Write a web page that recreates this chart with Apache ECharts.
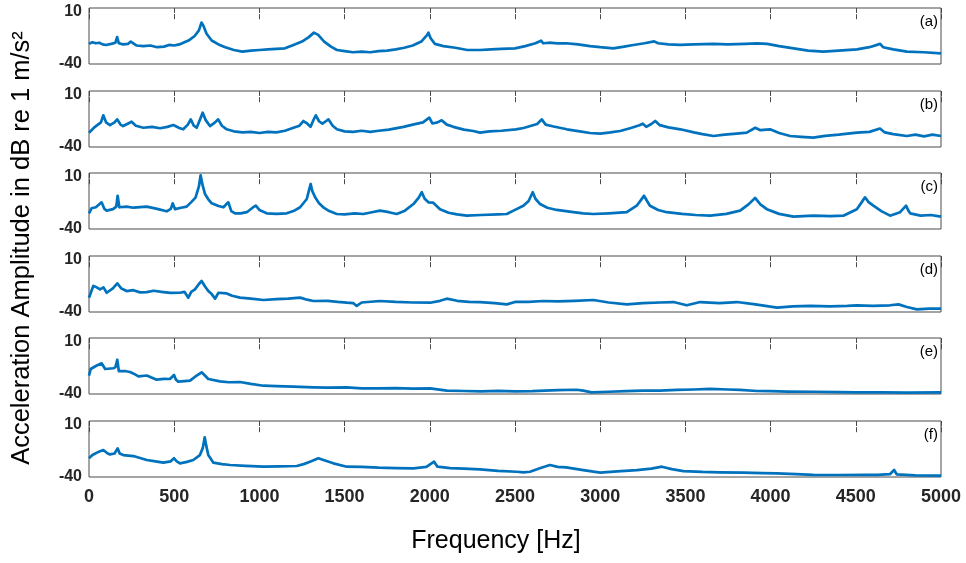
<!DOCTYPE html>
<html>
<head>
<meta charset="utf-8">
<script src="https://cdn.jsdelivr.net/npm/echarts@6/dist/echarts.min.js"></script>
<style>html,body{margin:0;padding:0;background:#fff}#c{width:966px;height:563px}</style>
</head>
<body>
<div id="c"></div>
<script>
// Frequency [Hz], amplitude [dB re 1 m/s^2] pairs
const panelLabels = ['(a)', '(b)', '(c)', '(d)', '(e)', '(f)'];
const xTicks = [0, 500, 1000, 1500, 2000, 2500, 3000, 3500, 4000, 4500, 5000];
const yTicks = [-40, 10];

const seriesA = [[0,-22],[20,-20.5],[40,-21.5],[60,-21],[80,-22.5],[100,-23],[130,-22],[155,-21],[165,-16],[175,-21.5],[200,-22.5],[230,-22],[245,-20],[255,-21],[280,-23.5],[320,-24],[360,-23.5],[400,-25],[440,-24.5],[470,-23],[500,-23.5],[530,-22.5],[560,-20.5],[590,-18.5],[620,-15],[645,-10],[660,-3],[666,-1.3],[672,-6],[690,-13],[720,-19],[760,-22.5],[800,-25],[850,-27.5],[900,-29],[950,-28],[1000,-27.5],[1050,-27],[1100,-26.5],[1150,-26],[1200,-23],[1250,-20],[1290,-16],[1320,-12],[1331,-11],[1345,-14],[1380,-20],[1420,-24.5],[1455,-27.5],[1500,-28.5],[1550,-29.5],[1600,-29],[1650,-29.5],[1700,-28.5],[1750,-28],[1800,-27],[1850,-25.5],[1900,-23.5],[1950,-20],[1985,-14],[1992,-12],[2005,-17],[2030,-22],[2080,-24],[2150,-25.5],[2220,-27.5],[2295,-27.5],[2360,-27],[2420,-26.5],[2500,-26],[2560,-24],[2620,-21.5],[2653,-19.2],[2665,-21.5],[2700,-21],[2750,-21.5],[2800,-21.5],[2870,-22.5],[2940,-24],[3000,-25],[3077,-26],[3140,-24.5],[3195,-23],[3260,-21.5],[3317,-19.8],[3340,-21.5],[3400,-22.5],[3470,-23],[3550,-22.5],[3665,-22],[3750,-22.5],[3850,-22],[3920,-21.5],[3980,-22],[4050,-24],[4135,-26],[4220,-28],[4310,-29],[4400,-28],[4507,-27],[4580,-25],[4643,-22],[4660,-25],[4720,-27],[4800,-29],[4900,-29.5],[5000,-30.5]];

const seriesB = [[0,-27.2],[35,-22],[70,-18],[84,-11.7],[100,-18],[123,-20.4],[150,-18],[165,-15.3],[185,-20],[200,-21.3],[230,-19],[250,-17.4],[275,-21],[319,-22.8],[370,-22],[417,-23.3],[460,-22],[495,-20.4],[530,-23],[553,-24.2],[580,-20],[597,-15.3],[615,-21],[632,-22.8],[655,-14],[667,-9.4],[685,-16],[710,-21.3],[740,-18],[758,-15.3],[780,-21],[808,-24.2],[850,-26],[900,-27],[950,-26.5],[1000,-27.5],[1050,-26.5],[1100,-27],[1150,-25.5],[1200,-22.8],[1235,-21],[1258,-16.8],[1280,-19],[1300,-22],[1320,-15],[1331,-11.7],[1350,-17],[1370,-19.2],[1390,-17],[1405,-15.3],[1430,-21],[1455,-24.2],[1500,-26],[1550,-26.5],[1600,-25.5],[1650,-26.5],[1700,-25.5],[1760,-24.5],[1846,-22],[1900,-20],[1960,-18],[1997,-13.8],[2015,-19],[2045,-18],[2070,-16.2],[2100,-20],[2138,-22],[2200,-24.5],[2255,-25.7],[2295,-27.2],[2350,-26],[2420,-25.5],[2505,-24.2],[2550,-23],[2590,-21.3],[2630,-19.5],[2657,-15.3],[2680,-20],[2720,-21.5],[2804,-24.2],[2880,-26],[2940,-27.5],[3000,-28.1],[3060,-27],[3117,-25.7],[3180,-23],[3230,-20.5],[3250,-19.2],[3270,-22],[3300,-19.5],[3323,-16.8],[3350,-20.5],[3400,-22.5],[3470,-24.2],[3550,-27],[3600,-28.5],[3665,-30.2],[3730,-29],[3800,-28],[3860,-27.2],[3910,-22.8],[3940,-25],[3997,-24.2],[4050,-27.5],[4115,-30.2],[4180,-31],[4250,-31.7],[4320,-30],[4400,-29],[4506,-27.2],[4580,-26.5],[4642,-23.5],[4670,-27],[4720,-28.5],[4799,-30.2],[4850,-29],[4900,-30.5],[4950,-29],[5000,-30.2]];

const seriesC = [[0,-26],[15,-21.5],[40,-20.6],[74,-16.2],[90,-22],[104,-23.6],[141,-22.3],[160,-20],[168,-10.3],[178,-20.6],[220,-20],[260,-21],[300,-20.5],[339,-20],[400,-22],[456,-24.2],[480,-22],[491,-17.1],[505,-22.3],[540,-21],[573,-20],[600,-16],[625,-12],[645,-2],[655,8],[665,0],[681,-8.8],[700,-13.5],[720,-17],[760,-19.5],[789,-20.6],[805,-18],[818,-16.2],[835,-24],[857,-26],[890,-26],[926,-25],[960,-21],[979,-19.2],[1000,-23],[1043,-26],[1100,-26.5],[1160,-26],[1200,-24],[1239,-20.6],[1278,-13.2],[1295,-3],[1301,0.2],[1310,-6],[1327,-11.7],[1350,-17],[1375,-20.6],[1410,-24],[1454,-26.6],[1500,-27],[1560,-26],[1610,-26.6],[1660,-25],[1708,-23.6],[1760,-25],[1806,-26.6],[1850,-24],[1904,-17.7],[1935,-12],[1953,-7.2],[1970,-13],[1992,-16.2],[2020,-16.5],[2060,-22.3],[2110,-25.5],[2160,-27],[2217,-28.1],[2300,-27.5],[2400,-27],[2452,-26.6],[2491,-23.6],[2549,-19.2],[2580,-15],[2604,-7.2],[2620,-13],[2647,-17.7],[2690,-21],[2745,-23],[2820,-24.5],[2900,-26],[2960,-26.6],[3050,-26],[3156,-25],[3214,-19.2],[3240,-14],[3257,-10.3],[3275,-15],[3292,-19.2],[3340,-23],[3390,-25],[3480,-26.5],[3560,-27.5],[3645,-28.1],[3740,-26.5],[3821,-23.6],[3870,-18],[3909,-12.3],[3940,-18],[3978,-22.3],[4050,-26.5],[4134,-29],[4250,-28],[4350,-28.5],[4427,-28.1],[4506,-22.3],[4535,-16],[4554,-11.7],[4575,-16],[4603,-19.2],[4650,-24],[4701,-28.1],[4760,-25],[4795,-19.2],[4810,-24],[4819,-26],[4880,-28],[4940,-27.5],[5000,-29]];

const seriesD = [[0,-27.2],[25,-16.8],[45,-18],[65,-19.8],[85,-18],[104,-22.8],[140,-19],[166,-14.4],[190,-19],[221,-21.3],[260,-20.5],[300,-22.5],[339,-22.2],[380,-21],[436,-22.2],[480,-23],[534,-22.8],[560,-22],[583,-27.2],[600,-22],[622,-19.8],[645,-15],[661,-12.3],[680,-17],[700,-21.3],[720,-24],[740,-28.1],[760,-22.8],[808,-23.4],[840,-25.5],[886,-27.2],[950,-28],[1023,-29.3],[1100,-28.5],[1170,-28],[1239,-27.2],[1280,-29],[1317,-30.2],[1400,-30],[1460,-31],[1513,-31.7],[1550,-32],[1571,-34.6],[1600,-31.5],[1708,-30.2],[1800,-31],[1900,-31.5],[2002,-31.7],[2060,-30],[2100,-28.1],[2160,-30],[2230,-31],[2295,-31.1],[2380,-32],[2452,-33.2],[2500,-31],[2580,-31],[2666,-30.2],[2750,-30.5],[2850,-30],[2960,-29.3],[3050,-31.5],[3156,-33.2],[3250,-32],[3350,-31.5],[3430,-31.1],[3508,-34],[3587,-31.1],[3700,-32],[3802,-31.1],[3900,-33],[3970,-34.5],[4037,-36.1],[4130,-35],[4233,-34.6],[4350,-35],[4450,-34.5],[4506,-34],[4600,-34.5],[4700,-34],[4751,-33.2],[4800,-35.5],[4859,-37.6],[4930,-37],[5000,-37]];

const seriesE = [[0,-23.6],[10,-17.7],[40,-15],[74,-12.6],[95,-17.7],[143,-17],[155,-16],[166,-9.4],[175,-19.5],[210,-19.5],[241,-20.4],[270,-22.5],[290,-24.2],[339,-23.5],[370,-25.5],[397,-27.2],[440,-26.5],[475,-26.6],[499,-23],[510,-27],[524,-29],[560,-28.5],[593,-28.1],[632,-23.5],[661,-20.6],[680,-23.5],[700,-26.6],[769,-28.7],[820,-29.5],[886,-29.3],[950,-31],[1023,-32.6],[1100,-33],[1200,-33.5],[1317,-34],[1400,-34.3],[1513,-34],[1600,-35],[1700,-35],[1800,-34.8],[1900,-35.2],[2002,-35],[2100,-37],[2200,-37.3],[2300,-37.6],[2400,-37.2],[2500,-37.6],[2600,-37.5],[2750,-36.6],[2862,-36.2],[2900,-37],[2950,-38.5],[3050,-38],[3150,-37.5],[3250,-37],[3350,-37],[3450,-36.3],[3550,-36],[3645,-35.5],[3750,-36],[3820,-36.4],[3920,-37.3],[4000,-37.5],[4100,-37.9],[4250,-38],[4400,-38.3],[4500,-38.5],[4650,-38.5],[4800,-38.7],[5000,-38.5]];

const seriesF = [[0,-23.3],[20,-20.4],[50,-18],[84,-15.9],[110,-19],[123,-19.8],[150,-19],[168,-14.4],[180,-19],[201,-20.4],[260,-21.3],[300,-23],[339,-24.8],[390,-26],[436,-27.2],[480,-26],[499,-23.3],[515,-26],[534,-27.8],[575,-26.5],[612,-24.8],[651,-20.4],[668,-14],[679,-4.6],[688,-12],[700,-20.4],[730,-27.2],[780,-28.5],[828,-29.3],[920,-30],[1023,-30.8],[1120,-30.5],[1219,-30.2],[1260,-28.5],[1297,-26.3],[1346,-23.3],[1380,-25],[1434,-27.8],[1513,-30.8],[1600,-31],[1700,-31.7],[1800,-32],[1904,-32.3],[1980,-31],[2025,-26.3],[2045,-30.8],[2120,-32],[2200,-32.5],[2295,-33.2],[2400,-34.5],[2510,-35.3],[2550,-35.8],[2588,-35.3],[2650,-32],[2705,-29.3],[2750,-31],[2800,-31.4],[2901,-33.8],[3000,-36.1],[3100,-35],[3215,-33.8],[3300,-32.5],[3362,-30.8],[3420,-33],[3488,-34.7],[3600,-35.5],[3700,-35.8],[3842,-36.1],[3950,-36.5],[4037,-36.7],[4150,-37.5],[4250,-38.1],[4400,-38.2],[4550,-38.1],[4627,-38.1],[4700,-37.5],[4725,-33.8],[4740,-37.6],[4850,-38.5],[5000,-38.8]];

const allSeries = [seriesA, seriesB, seriesC, seriesD, seriesE, seriesF];

const chart = echarts.init(document.getElementById('c'), null, {renderer: 'canvas'});
const FONT = '"Liberation Sans", Arial, Helvetica, sans-serif';
const AX = '#262626';
const FRAME = '#4a4a4a';
const tops = [8, 91, 173, 256, 338, 421];
const H = 56, LEFT = 89, RIGHT = 25;
const xMin = xTicks[0], xMax = xTicks[xTicks.length - 1], xInt = xTicks[1] - xTicks[0];
const yMin = yTicks[0], yMax = yTicks[1];

const grid = [], xAxis = [], yAxis = [], series = [], graphic = [];
allSeries.forEach((data, i) => {
  const last = i === allSeries.length - 1;
  grid.push({left: LEFT, right: RIGHT, top: tops[i], height: H, show: true, borderColor: FRAME, borderWidth: 1, backgroundColor: 'transparent'});
  xAxis.push({
    type: 'value', gridIndex: i, min: xMin, max: xMax, interval: xInt, position: 'bottom',
    axisLine: {show: false}, splitLine: {show: false},
    axisTick: {show: true, inside: true, length: 5, lineStyle: {color: FRAME, width: 1}},
    axisLabel: {show: last, color: AX, fontFamily: FONT, fontWeight: 'bold', fontSize: 18, margin: 11,
      formatter: v => String(v)}
  });
  xAxis.push({
    type: 'value', gridIndex: i, min: xMin, max: xMax, interval: xInt, position: 'top',
    axisLine: {show: false}, splitLine: {show: false},
    axisTick: {show: true, inside: true, length: 5, lineStyle: {color: FRAME, width: 1}},
    axisLabel: {show: false}
  });
  yAxis.push({
    type: 'value', gridIndex: i, min: yMin, max: yMax, interval: yMax - yMin,
    axisLine: {show: false}, splitLine: {show: false}, axisTick: {show: false},
    axisLabel: {
      color: AX, fontFamily: FONT, fontWeight: 'bold', fontSize: 16, margin: 7,
      formatter: v => v === yMax ? '{t|' + v + '}' : '{b|' + v + '}',
      rich: {
        t: {padding: [8, 0, 0, 0], color: AX, fontFamily: FONT, fontWeight: 'bold', fontSize: 16},
        b: {color: AX, fontFamily: FONT, fontWeight: 'bold', fontSize: 16}
      }
    }
  });
  series.push({
    type: 'line', xAxisIndex: i * 2, yAxisIndex: i, data: data,
    showSymbol: false, symbol: 'none', smooth: false,
    lineStyle: {color: '#0072BD', width: 2.7, join: 'round'}, silent: true
  });
  graphic.push({
    type: 'text', right: RIGHT + 3, top: tops[i] + 6,
    style: {text: panelLabels[i], fill: '#000', font: '15px ' + FONT}
  });
});
graphic.push({
  type: 'text', x: 22, y: 248, rotation: Math.PI / 2,
  style: {text: 'Acceleration Amplitude in dB re 1 m/s²', fill: '#000', font: '25.5px ' + FONT, align: 'center', verticalAlign: 'middle'}
});
graphic.push({
  type: 'text', x: 496, y: 541,
  style: {text: 'Frequency [Hz]', fill: '#000', font: '25px ' + FONT, align: 'center', verticalAlign: 'middle'}
});

chart.setOption({
  animation: false,
  backgroundColor: '#fff',
  grid, xAxis, yAxis, series, graphic
});
</script>
</body>
</html>
